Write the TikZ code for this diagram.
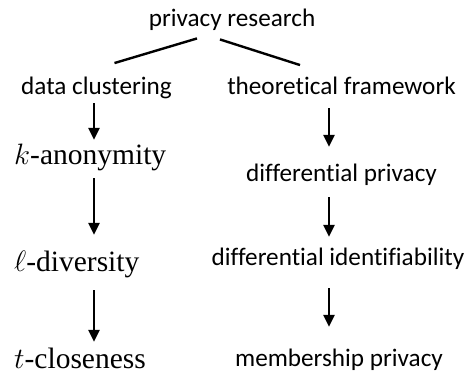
\RequirePackage{fix-cm}
\documentclass[tikz,border=0pt]{standalone}
\usepackage{fontspec}
\newfontfamily\carlito[Ligatures=NoCommon]{Carlito}
\newfontfamily\lserif{Liberation Serif}
\usetikzlibrary{arrows.meta,calc}
\tikzset{
  sans/.style={font=\carlito\fontsize{25.2}{30}\selectfont, inner sep=0pt, text height=18.75pt, text depth=6.25pt, anchor=base},
  serif/.style={font=\lserif\fontsize{29.5}{35}\selectfont, inner sep=0pt, text height=20.65pt, text depth=6.5pt, anchor=base west},
  ln/.style={line width=2.4pt, black},
  arr/.style={line width=2.4pt, black, -{Triangle[length=12pt,width=11pt]}}
}
\begin{document}
\begin{tikzpicture}[x=1pt,y=-1pt]
\useasboundingbox (0,0) rectangle (472,374);
\coordinate (lx) at (94,0);
\coordinate (rx) at (329,0);
\node[sans] (pr) at (232,27) {privacy research};
\node[sans] (dc) at (96.5,95) {data clustering};
\node[sans] (tf) at (341.5,95) {theoretical framework};
\node[serif] (ka) at (14,165) {$k$-anonymity};
\node[serif] (ld) at (14,272) {$\ell$-diversity};
\node[serif] (tc) at (14,369) {$t$-closeness};
\node[sans] (dp) at (341.5,182) {differential privacy};
\node[sans] (di) at (338,266) {differential identifiability};
\node[sans] (mp) at (339,367) {membership privacy};
\draw[ln] ($(pr.south)+(-35,5)$) -- ($(dc.north)+(18,-13)$);
\draw[ln] ($(pr.south)+(-12,6)$) -- ($(tf.north)+(-41.5,-11)$);
\draw[arr, shorten <=1.7pt, shorten >=4.3pt] (dc.south -| lx) -- (ka.north -| lx);
\draw[arr, shorten <=6.5pt, shorten >=16.3pt] (ka.south -| lx) -- (ld.north -| lx);
\draw[arr, shorten <=11.5pt, shorten >=6.3pt] (ld.south -| lx) -- (tc.north -| lx);
\draw[arr, shorten <=6.7pt, shorten >=16.2pt] (tf.south -| rx) -- (dp.north -| rx);
\draw[arr, shorten <=8.7pt, shorten >=10.2pt] (dp.south -| rx) -- (di.north -| rx);
\draw[arr, shorten <=15.7pt, shorten >=21.2pt] (di.south -| rx) -- (mp.north -| rx);
\end{tikzpicture}
\end{document}
